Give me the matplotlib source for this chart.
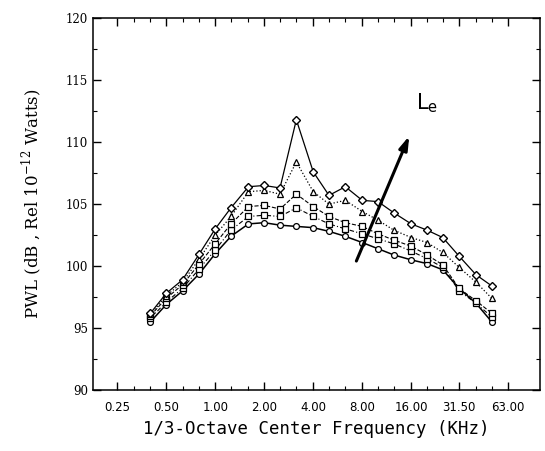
import matplotlib.pyplot as plt
from matplotlib.ticker import FixedLocator, NullFormatter

# 1/3-octave band centres (kHz)
freqs = [0.4, 0.5, 0.63, 0.8, 1.0, 1.25, 1.6, 2.0, 2.5, 3.15, 4.0, 5.0,
         6.3, 8.0, 10.0, 12.5, 16.0, 20.0, 25.0, 31.5, 40.0, 50.0]

# PWL (dB) for increasing Le, bottom to top
pwl_circle = [95.5, 96.9, 98.0, 99.4, 101.0, 102.4, 103.4, 103.5, 103.3, 103.2, 103.1,
              102.8, 102.4, 101.9, 101.4, 100.9, 100.5, 100.2, 99.7, 98.2, 97.0, 95.5]
pwl_sq2 = [95.8, 97.1, 98.2, 99.8, 101.3, 102.9, 104.0, 104.1, 104.0, 104.7, 104.0,
           103.4, 103.0, 102.6, 102.2, 101.8, 101.2, 100.6, 99.9, 98.0, 97.0, 95.9]
pwl_square = [96.0, 97.4, 98.5, 100.2, 101.8, 103.4, 104.8, 104.9, 104.6, 105.8, 104.8,
              104.0, 103.5, 103.2, 102.6, 102.1, 101.6, 100.9, 100.1, 98.2, 97.2, 96.2]
pwl_tri = [96.1, 97.6, 98.7, 100.6, 102.5, 104.0, 106.0, 106.1, 105.8, 108.4, 106.0,
           105.0, 105.3, 104.4, 103.7, 102.9, 102.3, 101.9, 101.1, 99.9, 98.7, 97.4]
pwl_diamond = [96.2, 97.8, 98.9, 101.0, 103.0, 104.7, 106.4, 106.5, 106.3, 111.8, 107.6,
               105.7, 106.4, 105.3, 105.2, 104.3, 103.4, 102.9, 102.3, 100.8, 99.3, 98.4]

xtick_vals = [0.25, 0.5, 1.0, 2.0, 4.0, 8.0, 16.0, 31.5, 63.0]
xtick_labels = ["0.25", "0.50", "1.00", "2.00", "4.00", "8.00", "16.00", "31.50", "63.00"]

fig = plt.figure(figsize=(5.45, 4.51), dpi=100)
ax = fig.add_axes([0.171, 0.135, 0.82, 0.825])

mk = dict(markersize=4.2, markerfacecolor="white", markeredgecolor="black",
          markeredgewidth=0.9, color="black")
ax.plot(freqs, pwl_circle, linestyle="-", marker="o", lw=1.1, **mk)
ax.plot(freqs, pwl_sq2, linestyle=(0, (4, 2, 1, 2)), marker="s", lw=0.8, **mk)
ax.plot(freqs, pwl_square, linestyle="--", marker="s", lw=0.8, **mk)
ax.plot(freqs, pwl_tri, linestyle=":", marker="^", lw=0.9, **mk)
ax.plot(freqs, pwl_diamond, linestyle="-", marker="D", lw=0.9, markersize=3.8,
        markerfacecolor="white", markeredgecolor="black", color="black")

# Le arrow
ax.annotate("", xy=(15.8, 110.7), xytext=(7.25, 100.2),
            arrowprops=dict(arrowstyle="-|>,head_length=0.8,head_width=0.25",
                            lw=2.2, color="black"))
ax.text(17.0, 112.6, "L$_\\mathregular{e}$", fontsize=15, family="DejaVu Sans")

ax.set_xscale("log")
ax.set_xlim(0.178, 99)
ax.set_ylim(90, 120)
ax.xaxis.set_major_locator(FixedLocator(xtick_vals))
ax.set_xticklabels(xtick_labels, family="DejaVu Sans", fontsize=8.5)
ax.xaxis.set_minor_locator(FixedLocator([0.315, 0.4, 0.63, 0.8, 1.25, 1.6, 2.5, 3.15,
                                         5.0, 6.3, 10, 12.5, 20, 25, 40, 50]))
ax.xaxis.set_minor_formatter(NullFormatter())
ax.set_yticks([90, 95, 100, 105, 110, 115, 120])
ax.set_yticks([92.5, 97.5, 102.5, 107.5, 112.5, 117.5], minor=True)
for lab in ax.get_yticklabels():
    lab.set_family("DejaVu Serif")
    lab.set_fontsize(8.5)

ax.tick_params(which="both", direction="in", top=True, right=True)
ax.tick_params(which="major", length=6, width=1)
ax.tick_params(which="minor", length=3, width=0.8)
ax.tick_params(axis="x", pad=8)
for s in ax.spines.values():
    s.set_linewidth(1.1)

ax.set_xlabel("1/3-Octave Center Frequency (KHz)", family="DejaVu Sans Mono",
              fontsize=12.5, labelpad=4)
ax.set_ylabel("PWL (dB , Rel 10$^{\\mathregular{-12}}$ Watts)", family="DejaVu Serif",
              fontsize=12, labelpad=16)

fig.savefig("out.png", dpi=100)
